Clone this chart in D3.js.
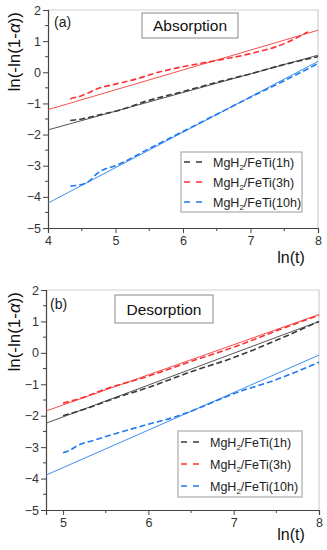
<!DOCTYPE html>
<html lang="en">
<head>
    <meta charset="UTF-8">
    <script src="https://cdnjs.cloudflare.com/ajax/libs/d3/7.8.5/d3.min.js"></script>
    <title>JMAK plots</title>
    <style>
        body { margin: 0; background: #fff; }
        text { font-family: "Liberation Sans", Arial, sans-serif; }
    </style>
</head>
<body>
    <div id="chart"></div>
    <script>
        // series names, colours
        var seriesNames = ["1h", "3h", "10h"];
        var colors = ["#3a3a3a", "#ff2f2f", "#1f78f0"];
        var fitColors = ["#555555", "#f25050", "#3d8ff0"];

        var yTicks = [-5, -4, -3, -2, -1, 0, 1, 2];

        // (a) absorption - measured (dashed)
        var absX1h = [4.33, 4.5, 4.8, 5.0, 5.5, 6.0, 6.5, 7.0, 7.5, 8.0];
        var absY1h = [-1.55, -1.5, -1.35, -1.25, -0.9, -0.62, -0.32, -0.05, 0.25, 0.5];
        var absX3h = [4.33, 4.5, 4.77, 5.0, 5.3, 5.6, 6.0, 6.5, 7.0, 7.5, 7.75, 7.85];
        var absY3h = [-0.85, -0.75, -0.5, -0.38, -0.22, -0.02, 0.18, 0.38, 0.6, 0.92, 1.18, 1.3];
        var absX10h = [4.33, 4.5, 4.62, 4.7, 4.8, 5.0, 5.5, 6.0, 6.5, 7.0, 7.5, 8.0];
        var absY10h = [-3.65, -3.6, -3.48, -3.3, -3.15, -3.0, -2.45, -1.9, -1.35, -0.8, -0.27, 0.28];
        // (a) absorption - linear fits [x0, y0, x1, y1]
        var absFit1h = [4, -1.85, 8, 0.55];
        var absFit3h = [4, -1.2, 8, 1.35];
        var absFit10h = [4, -4.2, 8, 0.35];

        // (b) desorption - measured (dashed)
        var desX1h = [5.0, 5.3, 5.6, 6.0, 6.5, 7.0, 7.5, 8.0];
        var desY1h = [-2.0, -1.75, -1.45, -1.1, -0.6, -0.15, 0.4, 1.0];
        var desX3h = [5.0, 5.2, 5.5, 6.0, 6.5, 7.0, 7.5, 8.0];
        var desY3h = [-1.6, -1.45, -1.15, -0.74, -0.27, 0.18, 0.7, 1.2];
        var desX10h = [5.0, 5.08, 5.15, 5.4, 5.7, 6.0, 6.3, 6.6, 6.8, 7.0, 7.5, 8.0];
        var desY10h = [-3.18, -3.1, -2.98, -2.75, -2.5, -2.27, -2.05, -1.75, -1.52, -1.3, -0.85, -0.3];
        // (b) desorption - linear fits
        var desFit1h = [4.8, -2.24, 8, 1.0];
        var desFit3h = [4.8, -1.85, 8, 1.22];
        var desFit10h = [4.8, -3.89, 8, -0.07];

        var W = 327, H = 550;
        var svg = d3.select("#chart").append("svg")
            .attr("width", W)
            .attr("height", H);

        var panels = [
            {
                top: 10, bottom: 228, left: 48, right: 318,
                xDomain: [4, 8], xTicks: [4, 5, 6, 7, 8],
                tag: "(a)", tagX: 54, tagY: 27, title: "Absorption",
                titleBox: [142, 13, 96, 25],
                legend: [181, 152, 121, 60],
                xs: [absX1h, absX3h, absX10h], ys: [absY1h, absY3h, absY10h],
                fits: [absFit1h, absFit3h, absFit10h],
                xlabelY: 263
            },
            {
                top: 290, bottom: 510, left: 46, right: 319,
                xDomain: [4.8, 8], xTicks: [5, 6, 7, 8],
                tag: "(b)", tagX: 50, tagY: 309, title: "Desorption",
                titleBox: [115, 295, 98, 28],
                legend: [178, 431, 124, 66],
                xs: [desX1h, desX3h, desX10h], ys: [desY1h, desY3h, desY10h],
                fits: [desFit1h, desFit3h, desFit10h],
                xlabelY: 540
            }
        ];

        panels.forEach(function(p) {
            var x = d3.scaleLinear().domain(p.xDomain).range([p.left, p.right]);
            var y = d3.scaleLinear().domain([-5, 2]).range([p.bottom, p.top]);
            var g = svg.append("g");

            // frame (top / right in light grey)
            g.append("path")
                .attr("d", "M" + p.left + "," + p.top + "H" + p.right + "V" + p.bottom)
                .attr("fill", "none")
                .attr("stroke", "#cfcfcf")
                .attr("stroke-width", 1.2);

            // minor ticks
            var xMinor = d3.range(Math.ceil(p.xDomain[0] * 2) / 2, p.xDomain[1] + 0.01, 0.5)
                .filter(function(v) { return v % 1 !== 0; });
            g.selectAll(".xminor").data(xMinor).enter().append("line")
                .attr("x1", function(d) { return x(d); })
                .attr("x2", function(d) { return x(d); })
                .attr("y1", p.bottom).attr("y2", p.bottom + 3)
                .attr("stroke", "#444");
            var yMinor = d3.range(-4.5, 2, 1);
            g.selectAll(".yminor").data(yMinor).enter().append("line")
                .attr("x1", p.left - 3).attr("x2", p.left)
                .attr("y1", function(d) { return y(d); })
                .attr("y2", function(d) { return y(d); })
                .attr("stroke", "#444");

            var xAxis = g.append("g")
                .attr("transform", "translate(0," + p.bottom + ")")
                .call(d3.axisBottom(x).tickValues(p.xTicks).tickSize(5).tickPadding(3).tickFormat(d3.format("d")));
            var yAxis = g.append("g")
                .attr("transform", "translate(" + p.left + ",0)")
                .call(d3.axisLeft(y).tickValues(yTicks).tickSize(5).tickPadding(2).tickFormat(d3.format("d")));
            [xAxis, yAxis].forEach(function(a) {
                a.select(".domain").attr("stroke", "#444").attr("stroke-width", 1.2);
                a.selectAll(".tick line").attr("stroke", "#444");
                a.selectAll("text").attr("fill", "#333").style("font-size", "12.5px")
                    .style("font-family", "'Liberation Sans', Arial, sans-serif");
            });

            // fit lines (solid)
            p.fits.forEach(function(f, i) {
                g.append("line")
                    .attr("x1", x(f[0])).attr("y1", y(f[1]))
                    .attr("x2", x(f[2])).attr("y2", y(f[3]))
                    .attr("stroke", fitColors[i])
                    .attr("stroke-width", 1);
            });

            // measured curves (dashed)
            var line = d3.line()
                .x(function(d) { return x(d[0]); })
                .y(function(d) { return y(d[1]); })
                .curve(d3.curveMonotoneX);
            p.xs.forEach(function(xs, i) {
                var pts = xs.map(function(v, k) { return [v, p.ys[i][k]]; });
                g.append("path")
                    .datum(pts)
                    .attr("d", line)
                    .attr("fill", "none")
                    .attr("stroke", colors[i])
                    .attr("stroke-width", 1.6)
                    .attr("stroke-dasharray", "6,3");
            });

            // panel tag
            g.append("text")
                .attr("x", p.tagX).attr("y", p.tagY)
                .style("font-size", "14px").attr("fill", "#222")
                .text(p.tag);

            // title box
            var tb = p.titleBox;
            g.append("rect")
                .attr("x", tb[0]).attr("y", tb[1])
                .attr("width", tb[2]).attr("height", tb[3])
                .attr("fill", "#fff").attr("stroke", "#888");
            g.append("text")
                .attr("x", tb[0] + tb[2] / 2).attr("y", tb[1] + tb[3] / 2 + 5.5)
                .attr("text-anchor", "middle")
                .style("font-size", "15.5px").attr("fill", "#111")
                .text(p.title);

            // legend
            var lg = p.legend;
            g.append("rect")
                .attr("x", lg[0]).attr("y", lg[1])
                .attr("width", lg[2]).attr("height", lg[3])
                .attr("fill", "#fff").attr("stroke", "#999");
            var rowH = lg[3] / 3;
            seriesNames.forEach(function(name, i) {
                var cy = lg[1] + rowH * (i + 0.5);
                g.append("line")
                    .attr("x1", lg[0] + 3).attr("x2", lg[0] + 23)
                    .attr("y1", cy).attr("y2", cy)
                    .attr("stroke", colors[i]).attr("stroke-width", 1.6)
                    .attr("stroke-dasharray", "6,6");
                var t = g.append("text")
                    .attr("x", lg[0] + 32).attr("y", cy + 4.5)
                    .style("font-size", "12.5px").attr("fill", "#222");
                t.append("tspan").text("MgH");
                t.append("tspan").attr("dy", 3).style("font-size", "8px").text("2");
                t.append("tspan").attr("dy", -3).text("/FeTi(" + name + ")");
            });

            // axis titles
            g.append("text")
                .attr("x", 291).attr("y", p.xlabelY)
                .attr("text-anchor", "middle")
                .style("font-size", "16px").attr("fill", "#111")
                .text("ln(t)");
            // y title sits near the top of the axis, as in the original
            var yl = g.append("text")
                .attr("transform", "translate(20," + (p.top + 2) + ") rotate(-90)")
                .attr("text-anchor", "end")
                .style("font-size", "17px").attr("fill", "#111");
            yl.append("tspan").text("ln(-ln(1-");
            yl.append("tspan").style("font-style", "italic").text("\u03b1");
            yl.append("tspan").text("))");
        });
    </script>
</body>
</html>
